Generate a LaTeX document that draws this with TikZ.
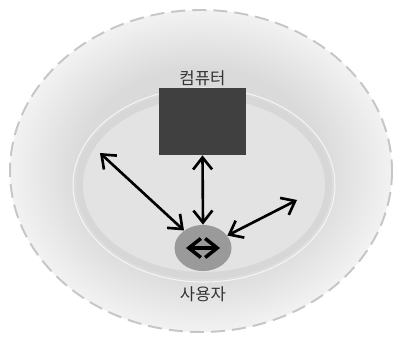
\documentclass[tikz,border=0pt]{standalone}
\usepackage{fontspec}
\usepackage{tikz}
\usetikzlibrary{arrows.meta,positioning,shapes.geometric}
\newfontfamily\kofont{Noto Sans CJK KR}
\definecolor{Halo}{HTML}{DADADA}
\definecolor{Rim}{HTML}{F2F2F2}
\definecolor{Core}{HTML}{E3E3E3}
\definecolor{Band}{HTML}{D7D7D7}
\definecolor{Box}{HTML}{404040}
\definecolor{Blob}{HTML}{9A9A9A}
\definecolor{Dash}{HTML}{C6C6C6}
\pgfdeclareradialshading{halo}{\pgfpoint{0bp}{0bp}}{color(0bp)=(Halo);color(16bp)=(Halo);color(25bp)=(Rim);color(50bp)=(Rim)}

\begin{document}
\begin{tikzpicture}[x=0.02cm,y=-0.02cm,
    link/.style={{Straight Barb[length=2.4mm,width=3.8mm]}-{Straight Barb[length=2.4mm,width=3.8mm]},line width=1.5pt,black},
    lbl/.style={font=\kofont\fontsize{9.5}{11}\selectfont,text=black!80}]
  \useasboundingbox (0,0) rectangle (401,340);
  \fill[white] (0,0) rectangle (401,340);
  % outer zone
  \shade[shading=halo] (201,171) ellipse [x radius=191,y radius=161];
  \draw[Dash,line width=1.1pt,dash pattern=on 8pt off 4pt] (201,171) ellipse [x radius=191,y radius=161];
  % inner zone
  \fill[Band] (204,185) ellipse [x radius=128,y radius=94];
  \fill[Core] (204,185) ellipse [x radius=121,y radius=87];
  \draw[white!60!Core,line width=0.6pt] (204,185) ellipse [x radius=131,y radius=97];
  % computer and user
  \node[fill=Box,minimum width=1.74cm,minimum height=1.34cm,inner sep=0pt] (computer) at (202.5,121.5) {};
  \node[lbl,above=0cm of computer,inner sep=1pt] (computerlbl) {컴퓨터};
  \node[ellipse,fill=Blob,minimum width=1.14cm,minimum height=0.92cm,inner sep=0pt] (user) at (203,248) {};
  \node[lbl,below=0.18cm of user] (userlbl) {사용자};
  \coordinate (lefttip) at (100,153);
  \coordinate (righttip) at (297,200);
  \coordinate (swapL) at (186,248);
  \coordinate (swapR) at (220,248);
  % links
  \draw[link] (computer.south) -- (user.north);
  \draw[link] (lefttip) -- (user);
  \draw[link] (righttip) -- (user);
  \draw[link,line width=2pt] (swapL) -- (swapR);
\end{tikzpicture}
\end{document}
